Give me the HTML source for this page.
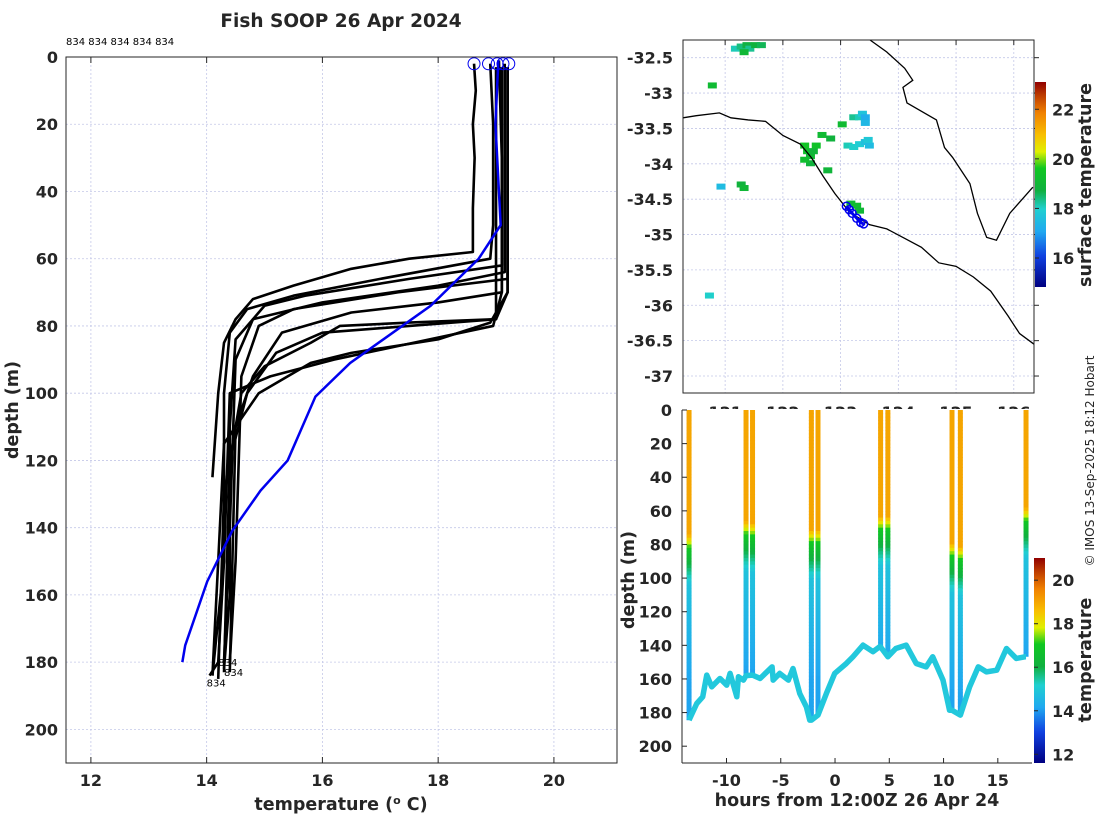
<!DOCTYPE html>
<html><head><meta charset="utf-8">
<style>
html,body{margin:0;padding:0;background:#fff;}
svg{display:block;font-family:"DejaVu Sans","Liberation Sans",sans-serif;}
.tk{font-size:16px;font-weight:bold;fill:#262626;}
.lb{font-size:17.5px;font-weight:bold;fill:#262626;}
.grid{stroke:#c4c8e8;stroke-width:0.8;stroke-dasharray:2,2;}
</style></head>
<body>
<svg id="fig" width="1100" height="820" viewBox="0 0 1100 820" xmlns="http://www.w3.org/2000/svg">
  <rect x="0" y="0" width="1100" height="820" fill="#fff"/>
  <text x="341" y="27" text-anchor="middle" class="lb" style="font-size:18.5px">Fish SOOP 26 Apr 2024</text>
  <text x="66" y="45" font-size="10" fill="#000">834 834 834 834 834</text>
  <g id="left"></g>
  <g id="map"></g>
  <g id="bottom"></g>
  <text transform="translate(1094,461) rotate(-90)" text-anchor="middle" font-size="12" fill="#262626">© IMOS 13-Sep-2025 18:12 Hobart</text>
</svg>
<script>
// ---------- LEFT PLOT DATA ----------
const xTicksT = [12,14,16,18,20];
const yTicksD = [0,20,40,60,80,100,120,140,160,180,200];
const profA = [[18.62,2],[18.65,10],[18.6,20],[18.63,30],[18.6,45],[18.6,58],[17.5,60],[16.5,63],[15.5,68],[14.8,72],[14.5,78],[14.3,85],[14.2,100],[14.1,125]];
const profB = [[18.9,2],[18.95,20],[18.95,50],[18.9,60],[17,66],[15.5,71],[14.7,75],[14.4,82],[14.3,100],[14.3,150],[14.2,180],[14.05,184]];
const profC = [[19.05,1],[19.1,30],[19.1,62],[17.5,66],[15.7,71],[15,74],[14.5,84],[14.4,110],[14.4,160],[14.3,182]];
const profD = [[19.15,2],[19.15,40],[19.15,64],[18,68],[16,73],[14.8,78],[14.5,90],[14.4,140],[14.3,180]];
const profE = [[19.2,3],[19.2,60],[19.2,66],[17.3,70],[15.5,75],[14.9,80],[14.6,95],[14.5,150],[14.4,180]];
const profF = [[19.1,3],[19.1,60],[19.1,70],[18,73],[16.5,76],[15.3,82],[14.8,95],[14.5,110],[14.4,183]];
const profG = [[19.0,3],[19.0,60],[19.0,78],[17.5,80],[16,82],[15.2,88],[14.7,100],[14.4,120],[14.3,183]];
const profH = [[19.2,3],[19.2,70],[19.0,78],[17.5,79],[16.3,80],[15.8,85],[15,92],[14.6,100],[14.3,130],[14.2,185]];
const profI = [[19.1,3],[19.1,70],[18.95,80],[17.3,86],[16.2,90],[15.1,95],[14.4,100],[14.3,150],[14.1,184]];
const profJ = [[19.2,3],[19.2,70],[18.9,79],[18.0,84],[16.5,88],[15.8,91],[14.9,100],[14.3,115],[14.2,150],[14.1,184]];
const blueMean = [[19.04,1],[18.99,20],[19.08,50],[18.7,60],[17.87,74],[16.48,91],[15.88,101],[15.4,120],[14.93,129],[14.44,141],[14.01,156],[13.63,175],[13.58,180]];
const surfaceT = [18.62,18.87,19.02,19.12,19.22];

// ---------- MAP DATA ----------
const latTicks = [-32.5,-33,-33.5,-34,-34.5,-35,-35.5,-36,-36.5,-37];
const lonTicks = [121,122,123,124,125,126];
const sstTicks = [16,18,20,22];
const coastMain = [[120.27,-33.35],[120.5,-33.32],[120.9,-33.28],[121.1,-33.35],[121.4,-33.38],[121.7,-33.4],[122.0,-33.6],[122.3,-33.72],[122.5,-33.92],[122.7,-34.18],[122.9,-34.42],[123.15,-34.68],[123.5,-34.86],[123.8,-34.92],[124.1,-35.05],[124.4,-35.18],[124.7,-35.4],[125.0,-35.45],[125.3,-35.6],[125.6,-35.8],[125.9,-36.15],[126.1,-36.4],[126.35,-36.55]];
const coastNE = [[123.51,-32.25],[123.8,-32.42],[124.11,-32.65],[124.25,-32.82],[124.08,-32.92],[124.15,-33.14],[124.66,-33.38],[124.8,-33.77],[124.94,-33.91],[125.24,-34.28],[125.37,-34.7],[125.53,-35.04],[125.7,-35.08],[125.93,-34.7],[126.33,-34.33]];
const sstLon = [121.1,121.2,121.3,121.35,121.45,121.55,121.25,120.7,123.15,123.25,123.3,123.35,123.35,122.3,122.35,122.4,122.45,122.4,122.5,122.3,123.05,123.15,123.25,123.35,123.42,123.4,122.6,122.75,120.85,121.2,121.25,123.1,123.2,123.25,120.65,122.95,122.7];
const sstLat = [-32.33,-32.3,-32.28,-32.33,-32.28,-32.28,-32.38,-32.85,-33.3,-33.3,-33.25,-33.3,-33.38,-33.7,-33.78,-33.85,-33.78,-33.95,-33.7,-33.9,-33.7,-33.72,-33.68,-33.65,-33.7,-33.62,-33.55,-33.6,-34.28,-34.25,-34.3,-34.52,-34.55,-34.62,-35.82,-33.4,-34.05];
const sstVal = [18.1,18.4,18.7,18.3,18.8,18.6,19.0,19.1,18.3,18.1,17.7,17.2,17.4,19.5,19.3,19.1,18.9,18.8,19.4,19.2,18.1,18.0,17.9,17.6,17.5,17.8,19.1,18.8,17.5,18.8,19.0,19.1,19.2,19.0,18.0,19.1,18.9];
const trackLon = [123.1,123.15,123.2,123.28,123.35,123.4];
const trackLat = [-34.6,-34.65,-34.7,-34.77,-34.83,-34.85];

// ---------- BOTTOM PLOT DATA ----------
const hourTicks = [-10,-5,0,5,10,15];
const depthTicks = [0,20,40,60,80,100,120,140,160,180,200];
const tempTicks = [12,14,16,18,20];
const profTime = [-13.45,-8.2,-7.6,-2.18,-1.57,4.2,4.87,10.78,11.55,17.6];
const profBottom = [184.5,158,157.7,184.5,181.5,141,146.8,178.6,181.5,146.8];
const profMld = [73,65,66,70,70,62,62,78,80,57];
const trackHours = [-13.45,-12.74,-12.19,-11.82,-11.36,-10.6,-9.98,-9.67,-9.05,-8.9,-8.44,-8.2,-7.6,-6.9,-5.8,-5.7,-5.1,-4.3,-3.87,-3.25,-2.64,-2.33,-2.18,-1.57,-0.8,-0.03,1.04,1.65,2.58,3.5,4.1,4.2,4.87,5.6,6.56,7.48,8.4,9.0,9.95,10.55,10.78,11.55,12.4,13.2,13.95,14.9,15.8,16.7,17.5,17.6];
const trackDepth = [184.5,174.6,170.6,157.7,164.7,159.7,163.7,156.7,170.6,158.7,160.7,158,157.7,159.7,152.8,160.7,156.7,160.7,153.8,168.7,176.6,184.5,184.5,181.5,168.7,156.7,150.8,146.8,139.9,143.8,140.9,141,146.8,141.9,139.9,150.8,152.8,146.8,160.7,178.6,178.6,181.5,164.7,152.8,155.8,154.8,141.9,147.8,146.8,146.8];

const NS = 'http://www.w3.org/2000/svg';
function mk(tag, attrs, parent){ const e=document.createElementNS(NS,tag); for(const k in attrs) e.setAttribute(k,attrs[k]); parent.appendChild(e); return e; }
const CM = [[0,[0,0,128]],[0.15,[16,64,224]],[0.27,[32,168,240]],[0.38,[32,208,208]],[0.47,[16,176,64]],[0.58,[16,200,32]],[0.66,[224,240,0]],[0.74,[248,192,0]],[0.85,[240,128,0]],[0.93,[192,64,0]],[1,[144,0,0]]];
function cmap(t){ t=Math.max(0,Math.min(1,t));
  for(let i=1;i<CM.length;i++){ if(t<=CM[i][0]){ const a=CM[i-1],b=CM[i],f=(t-a[0])/(b[0]-a[0]);
    const c=a[1].map((v,k)=>Math.round(v+(b[1][k]-v)*f)); return `rgb(${c[0]},${c[1]},${c[2]})`; } }
  return 'rgb(144,0,0)'; }
function lin(d0,d1,r0,r1){ return v=>r0+(v-d0)*(r1-r0)/(d1-d0); }
function grad(id,defs){ const lg=mk('linearGradient',{id:id,x1:0,y1:1,x2:0,y2:0},defs);
  CM.forEach(s=>mk('stop',{offset:s[0],'stop-color':`rgb(${s[1].join(',')})`},lg)); }

// ===== LEFT =====
(function(){
  const g=document.getElementById('left');
  const L=66,R=617,T=57,B=763;
  const x=lin(11.57,21.09,L,R), y=lin(0,210,T,B);
  xTicksT.forEach(v=>{ const l=mk('line',{x1:x(v),x2:x(v),y1:T,y2:B,class:'grid'},g);
     
    mk('line',{x1:x(v),x2:x(v),y1:B,y2:B-6,stroke:'#262626'},g); mk('line',{x1:x(v),x2:x(v),y1:T,y2:T+6,stroke:'#262626'},g);
    const t=mk('text',{x:x(v),y:B+23,'text-anchor':'middle',class:'tk'},g); t.textContent=v;
      });
  yTicksD.forEach(v=>{ const l=mk('line',{x1:L,x2:R,y1:y(v),y2:y(v),class:'grid'},g);
     
    const t=mk('text',{x:L-8,y:y(v)+6,'text-anchor':'end',class:'tk'},g); t.textContent=v;
      });
  const profs=[profA,profB,profC,profD,profE,profF,profG,profH,profI,profJ];
  profs.forEach(p=>{ const pl=mk('polyline',{points:p.map(q=>x(q[0])+','+y(q[1])).join(' '),fill:'none',stroke:'#000','stroke-width':2.6,'stroke-linejoin':'round'},g);
      });
  const bl=mk('polyline',{points:blueMean.map(q=>x(q[0])+','+y(q[1])).join(' '),fill:'none',stroke:'#0000ee','stroke-width':2.5},g);
   
  surfaceT.forEach(v=>{ const c=mk('circle',{cx:x(v),cy:y(2),r:6,fill:'none',stroke:'#0000ee','stroke-width':1},g);
      });
  [[14.2,180],[14.3,183],[14.0,186]].forEach(q=>{ const t=mk('text',{x:x(q[0]),y:y(q[1])+4,'font-size':10,fill:'#000'},g); t.textContent='834';
      });
  const fr=mk('rect',{x:L,y:T,width:R-L,height:B-T,fill:'none',stroke:'#262626','stroke-width':1},g);
   
  const xl=mk('text',{x:341,y:810,'text-anchor':'middle',class:'lb'},g);
  xl.innerHTML='temperature (<tspan dy="-6" font-size="11">o</tspan><tspan dy="6"> C)</tspan>';
   
  const yl=mk('text',{transform:'translate(18,410) rotate(-90)','text-anchor':'middle',class:'lb'},g); yl.textContent='depth (m)';
   
})();

// ===== MAP =====
(function(){
  const g=document.getElementById('map');
  const L=683,R=1034,T=40,B=393;
  const x=lin(120.27,126.35,L,R), y=lin(-32.25,-37.24,T,B);
  const cs=lin(14.83,23.1,0,1);
  lonTicks.forEach(v=>{ const l=mk('line',{x1:x(v),x2:x(v),y1:T,y2:B,class:'grid'},g);
     
    mk('line',{x1:x(v),x2:x(v),y1:T,y2:T+5,stroke:'#262626'},g);
    const t=mk('text',{x:x(v),y:418,'text-anchor':'middle',class:'tk'},g); t.textContent=v;
      });
  latTicks.forEach(v=>{ const l=mk('line',{x1:L,x2:R,y1:y(v),y2:y(v),class:'grid'},g);
     
    mk('line',{x1:R,x2:R+5,y1:y(v),y2:y(v),stroke:'#262626'},g);
    const t=mk('text',{x:L-10,y:y(v)+6,'text-anchor':'end',class:'tk'},g); t.textContent=v;
      });
  sstLon.forEach((lo,i)=>{ const r=mk('rect',{x:x(lo),y:y(sstLat[i]),width:9,height:6,fill:cmap(cs(sstVal[i]))},g);
      });
  [coastMain,coastNE].forEach(c=>{ const p=mk('polyline',{points:c.map(q=>x(q[0])+','+y(q[1])).join(' '),fill:'none',stroke:'#000','stroke-width':1.3},g);
      });
  const tr=mk('polyline',{points:trackLon.map((lo,i)=>x(lo)+','+y(trackLat[i])).join(' '),fill:'none',stroke:'#0000ee','stroke-width':3},g);
   
  trackLon.forEach((lo,i)=>{ const c=mk('circle',{cx:x(lo),cy:y(trackLat[i]),r:4,fill:'none',stroke:'#0000ee','stroke-width':1.5},g);
      });
  const fr=mk('rect',{x:L,y:T,width:R-L,height:B-T,fill:'none',stroke:'#262626'},g);
   
  const cT=82,cB=287,cy=lin(14.83,23.1,cB,cT);
  const defs=mk('defs',{},g); grad('cmA',defs);
  const cb=mk('rect',{x:1035,y:cT,width:11,height:cB-cT,fill:'url(#cmA)'},g);
   
  sstTicks.forEach(v=>{ mk('line',{x1:1035,x2:1039,y1:cy(v),y2:cy(v),stroke:'#262626'},g);
    const t=mk('text',{x:1052,y:cy(v)+6,class:'tk'},g); t.textContent=v;
      });
  const cl=mk('text',{transform:'translate(1091,185) rotate(-90)','text-anchor':'middle',class:'lb','font-size':15},g); cl.textContent='surface temperature';
   
})();

// ===== BOTTOM =====
(function(){
  const g=document.getElementById('bottom');
  const L=682,R=1032,T=410,B=763;
  mk('rect',{x:L,y:T-1,width:R-L,height:B-T+1,fill:'#fff'},g);
  const x=lin(-14.1,18.15,L,R), y=lin(0,210,T,B);
  const cs=lin(11.6,21.02,0,1);
  function tAt(d,mld){ if(d<mld) return 19.0; if(d<mld+8) return 19.0-(d-mld)*0.25; if(d<mld+30) return 17-(d-mld-8)*0.1; return Math.max(14.1,14.8-(d-mld-30)*0.012); }
  profTime.forEach((h,i)=>{ for(let d=0; d<profBottom[i]; d+=2){
      const s=mk('line',{x1:x(h),x2:x(h),y1:y(d),y2:y(Math.min(d+2.5,profBottom[i])),stroke:cmap(cs(tAt(d,profMld[i]))),'stroke-width':5},g);
        } });
  const bt=mk('polyline',{points:trackHours.map((h,i)=>x(h)+','+y(trackDepth[i])).join(' '),fill:'none',stroke:'#22c8dc','stroke-width':5.5,'stroke-linejoin':'round'},g);
   
  hourTicks.forEach(v=>{ mk('line',{x1:x(v),x2:x(v),y1:B,y2:B-5,stroke:'#262626'},g);
    const t=mk('text',{x:x(v),y:B+23,'text-anchor':'middle',class:'tk'},g); t.textContent=v;
      });
  depthTicks.forEach(v=>{ mk('line',{x1:L,x2:L+5,y1:y(v),y2:y(v),stroke:'#262626'},g);
    const t=mk('text',{x:L-10,y:y(v)+6,'text-anchor':'end',class:'tk'},g); t.textContent=v;
      });
  mk('line',{x1:L,x2:L,y1:T,y2:B,stroke:'#262626'},g); mk('line',{x1:L,x2:R,y1:B,y2:B,stroke:'#262626'},g);
  const cT=558,cB=763,cy=lin(11.6,21.02,cB,cT);
  const defs=mk('defs',{},g); grad('cmB',defs);
  const cb=mk('rect',{x:1034,y:cT,width:11,height:cB-cT,fill:'url(#cmB)'},g);
   
  tempTicks.forEach(v=>{ mk('line',{x1:1034,x2:1038,y1:cy(v),y2:cy(v),stroke:'#262626'},g);
    const t=mk('text',{x:1052,y:cy(v)+6,class:'tk'},g); t.textContent=v;
      });
  const cl=mk('text',{transform:'translate(1091,660) rotate(-90)','text-anchor':'middle',class:'lb','font-size':15},g); cl.textContent='temperature';
   
  const xl=mk('text',{x:857,y:806,'text-anchor':'middle',class:'lb'},g); xl.textContent='hours from 12:00Z 26 Apr 24';
   
  const yl=mk('text',{transform:'translate(634,580) rotate(-90)','text-anchor':'middle',class:'lb'},g); yl.textContent='depth (m)';
   
})();
</script>
</body></html>
